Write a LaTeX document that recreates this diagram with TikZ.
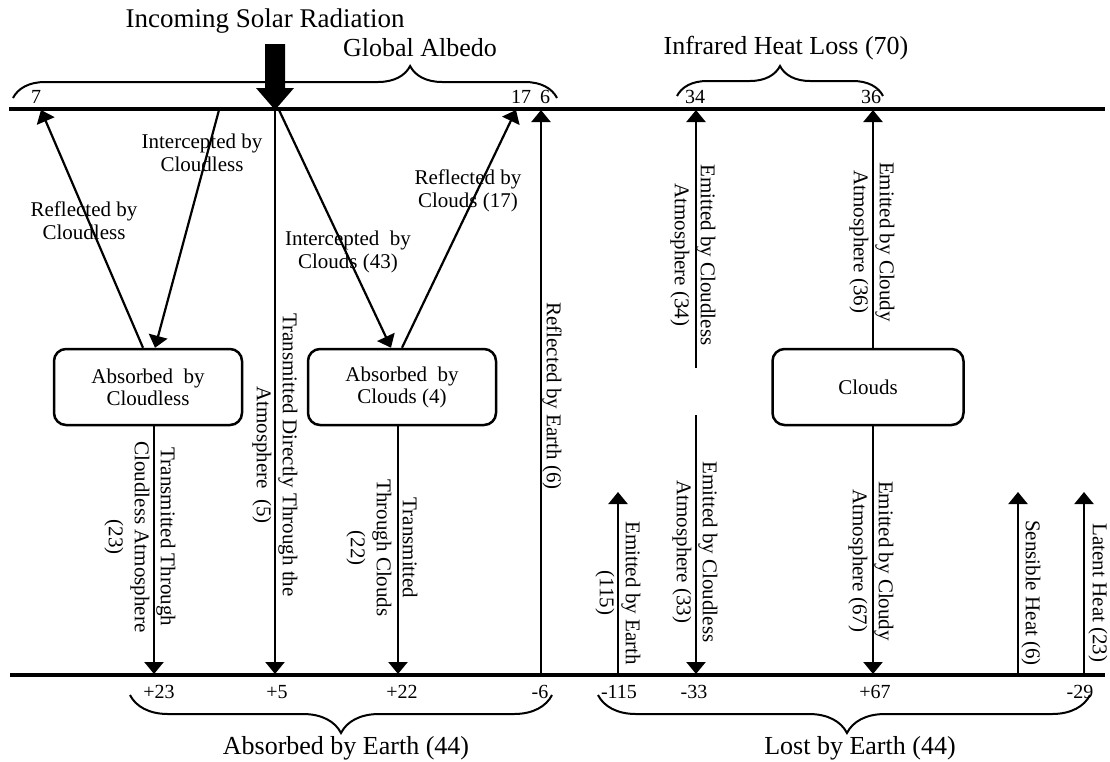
\documentclass[tikz,border=0pt]{standalone}
\usepackage{fontspec}
\setmainfont{Liberation Serif}
\usetikzlibrary{arrows.meta,calc,decorations.pathreplacing}
\tikzset{
  lbl/.style={font=\fontsize{21}{23}\selectfont, align=center, inner sep=0pt},
  vlbl/.style={font=\fontsize{21}{26}\selectfont, align=center, rotate=-90, inner sep=0pt},
  num/.style={font=\fontsize{20}{22}\selectfont, inner sep=0pt},
  headtxt/.style={font=\fontsize{26}{28}\selectfont, inner sep=0pt},
  boxnode/.style={draw, line width=2.5pt, rounded corners=12pt, minimum width=188pt, minimum height=76pt, align=center, font=\fontsize{21}{22}\selectfont},
  flow/.style={line width=2.2pt, -{Triangle[length=12pt,width=19pt]}},
  plainline/.style={line width=2.2pt},
  earthline/.style={line width=4pt},
  brc/.style={decorate, line width=2pt},
}
\begin{document}
\begin{tikzpicture}[x=1pt,y=-1pt]
\useasboundingbox (0,0) rectangle (1110,761);
% main horizontal lines
\coordinate (tl) at (9,109); \coordinate (tr) at (1105,109);
\coordinate (bl) at (10,675); \coordinate (br) at (1105,675);
\draw[earthline] (tl) -- (tr);
\draw[earthline] (bl) -- (br);

% title and incoming arrow
\node[font=\fontsize{27}{29}\selectfont, inner sep=0pt] (title) at (265,21) {Incoming Solar Radiation};
\fill (265,44) -- (285,44) -- (285,88) -- (294,88) -- (275,110) -- (256,88) -- (265,88) -- cycle;

% boxes
\node[boxnode] (abscl) at (148,387) {Absorbed\ \ by\\Cloudless};
\node[boxnode] (abscd) at (402,387) {Absorbed\ \ by\\Clouds (4)};
\node[boxnode, minimum width=191pt] (clouds) at (868,387) {Clouds};

% top points
\coordinate (t7) at (41,110);
\coordinate (tic) at (219,110);
\coordinate (ttd) at (275,110);
\coordinate (ticd) at (279,110);
\coordinate (t17) at (516,110);
\coordinate (t6) at (541,110);
\coordinate (t34) at (696,110);
\coordinate (t36) at (873,110);
% bottom points
\coordinate (b23) at (154,674);
\coordinate (b5) at (275,674);
\coordinate (b22) at (398,674);
\coordinate (b6) at (541,675);
\coordinate (b115) at (618,675);
\coordinate (b33) at (696,674);
\coordinate (b67) at (873,674);
\coordinate (bsh) at (1018,675);
\coordinate (blh) at (1084,675);
% free ends
\coordinate (e115) at (618,492);
\coordinate (esh) at (1018,492);
\coordinate (elh) at (1084,492);
\coordinate (g34) at (696,368);
\coordinate (g33) at (696,415);

% connectors
\draw[flow] ($(abscl.north)+(-5,0)$) -- (t7);
\draw[flow] (tic) -- ($(abscl.north)+(7,0)$);
\draw[flow] (ttd) -- (b5);
\draw[flow] (ticd) -- ($(abscd.north)+(-11,0)$);
\draw[flow] (abscd.north) -- (t17);
\draw[flow] (b6) -- (t6);
\draw[flow] (g34) -- (t34);
\draw[flow] (g33) -- (b33);
\draw[flow] (clouds.north -| t36) -- (t36);
\draw[flow] (clouds.south -| b67) -- (b67);
\draw[flow] (b115) -- (e115);
\draw[flow] (bsh) -- (esh);
\draw[flow] (blh) -- (elh);
\draw[flow] (abscl.south -| b23) -- (b23);
\draw[flow] (abscd.south -| b22) -- (b22);

% slanted labels
\node[lbl] (lic) at (202,153) {Intercepted by\\Cloudless};
\node[lbl] (lrc) at (84,221) {Reflected by\\Cloudless};
\node[lbl] (lrcd) at (468,191) {Reflected by\\Clouds (17)};
\node[lbl] (licd) at (348,252) {Intercepted\ \ by\\Clouds (43)};

% vertical labels
\node[vlbl] (ltd) at (275,455) {Transmitted Directly Through the\\Atmosphere\ \ (5)};
\node[vlbl] (ltc) at (140,537) {Transmitted Through\\Cloudless Atmosphere\\(23)};
\node[vlbl] (ltcd) at (382,548) {Transmitted\\Through Clouds\\(22)};
\node[vlbl] (lre) at (552,396) {Reflected by Earth (6)};
\node[vlbl] (le34) at (693,255) {Emitted by Cloudless\\Atmosphere (34)};
\node[vlbl] (le36) at (872,242) {Emitted by Cloudy\\Atmosphere (36)};
\node[vlbl] (le33) at (695,552) {Emitted by Cloudless\\Atmosphere (33)};
\node[vlbl] (le67) at (871,561) {Emitted by Cloudy\\Atmosphere (67)};
\node[vlbl] (lee) at (618,593) {Emitted by Earth\\(115)};
\node[vlbl] (lsh) at (1031,593) {Sensible Heat (6)};
\node[vlbl] (llh) at (1098,593) {Latent Heat (23)};

% top numbers
\node[num] (n7) at (36,97) {7};
\node[num] (n17) at (521,97) {17};
\node[num] (n6) at (545,97) {6};
\node[num] (n34) at (695,97) {34};
\node[num] (n36) at (871,97) {36};
% bottom numbers
\node[num] (m23) at (159,692) {+23};
\node[num] (m5) at (277,692) {+5};
\node[num] (m22) at (402,692) {+22};
\node[num] (m6) at (540,692) {-6};
\node[num] (m115) at (619,692) {-115};
\node[num] (m33) at (694,692) {-33};
\node[num] (m67) at (875,692) {+67};
\node[num] (m29) at (1080,692) {-29};

% braces
\coordinate (gaL) at (13,98); \coordinate (gaR) at (557,98);
\draw[brc, decoration={brace, amplitude=32pt, aspect=0.73}] (gaL) -- (gaR);
\node[headtxt] (ga) at (420,48) {Global Albedo};
\coordinate (irL) at (677,96); \coordinate (irR) at (883,96);
\draw[brc, decoration={brace, amplitude=30pt, aspect=0.5}] (irL) -- (irR);
\node[headtxt] (ir) at (786,48) {Infrared Heat Loss (70)};
\coordinate (aeL) at (130,695); \coordinate (aeR) at (552,695);
\draw[brc, decoration={brace, mirror, amplitude=38pt, aspect=0.5}] (aeL) -- (aeR);
\node[headtxt] (ae) at (346,748) {Absorbed by Earth (44)};
\coordinate (leL) at (598,695); \coordinate (leR) at (1090,695);
\draw[brc, decoration={brace, mirror, amplitude=38pt, aspect=0.506}] (leL) -- (leR);
\node[headtxt] (le) at (860,748) {Lost by Earth (44)};
\end{tikzpicture}
\end{document}
